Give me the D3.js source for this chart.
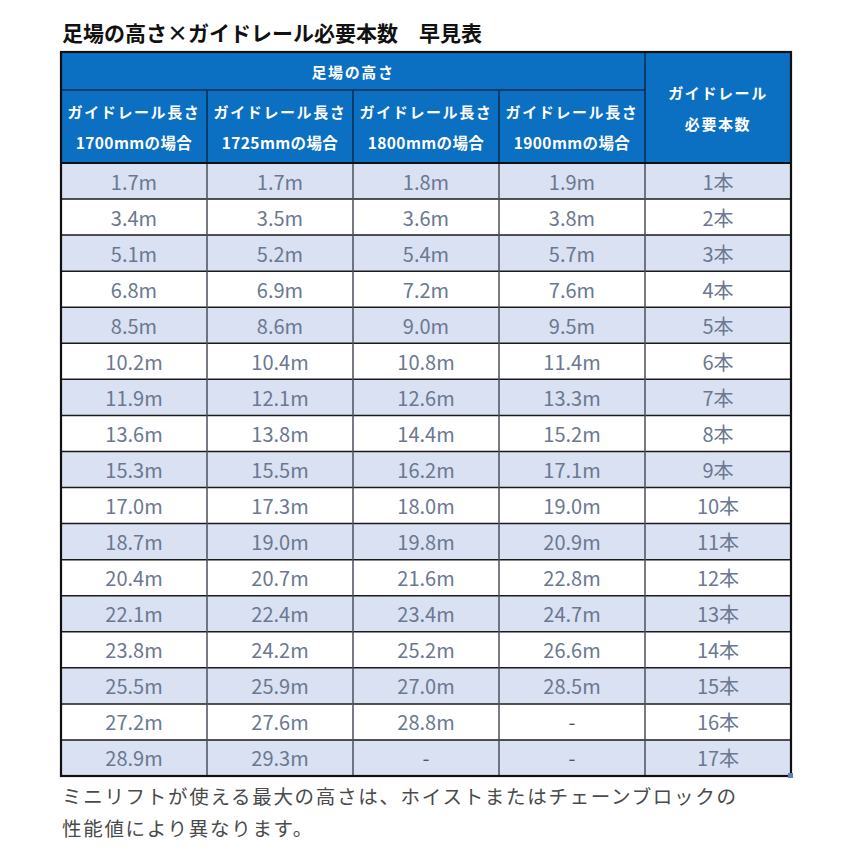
<!DOCTYPE html>
<html><head><meta charset="utf-8">
<script src="https://cdn.jsdelivr.net/npm/d3@7"></script>
<style>
html,body{margin:0;padding:0;background:#fff;}
svg{display:block;font-family:"Noto Sans CJK JP","Noto Sans",sans-serif;}
</style></head>
<body>
<svg id="c" width="858" height="858"></svg>
<script>
const title = "足場の高さ×ガイドレール必要本数　早見表";
const groupHeader = "足場の高さ";
const colHeaders = [
  ["ガイドレール長さ","1700mmの場合"],
  ["ガイドレール長さ","1725mmの場合"],
  ["ガイドレール長さ","1800mmの場合"],
  ["ガイドレール長さ","1900mmの場合"]
];
const countHeader = ["ガイドレール","必要本数"];
const h1700 = [1.7,3.4,5.1,6.8,8.5,10.2,11.9,13.6,15.3,17.0,18.7,20.4,22.1,23.8,25.5,27.2,28.9];
const h1725 = [1.7,3.5,5.2,6.9,8.6,10.4,12.1,13.8,15.5,17.3,19.0,20.7,22.4,24.2,25.9,27.6,29.3];
const h1800 = [1.8,3.6,5.4,7.2,9.0,10.8,12.6,14.4,16.2,18.0,19.8,21.6,23.4,25.2,27.0,28.8,null];
const h1900 = [1.9,3.8,5.7,7.6,9.5,11.4,13.3,15.2,17.1,19.0,20.9,22.8,24.7,26.6,28.5,null,null];
const counts = [1,2,3,4,5,6,7,8,9,10,11,12,13,14,15,16,17];
const footnote = ["ミニリフトが使える最大の高さは、ホイストまたはチェーンブロックの","性能値により異なります。"];

const svg = d3.select("#c");
const L = 61, R = 791, T = 52, HB = 163, B = 776, HM = 90;
const colKeys = [0,1,2,3,4];
const x = d3.scaleBand().domain(colKeys).range([L,R]).padding(0);
const rows = d3.range(counts.length);
const y = d3.scaleBand().domain(rows).range([HB,B]).padding(0);

const blue = "#0b6fc2", shade = "#d9e1f2", txt = "#6b7891", hdrLine = "#0d2b4d";

// title
svg.append("text").attr("x",62).attr("y",41).attr("font-size",21).attr("font-weight","bold")
  .attr("fill","#111").text(title);

// header background
svg.append("rect").attr("x",L).attr("y",T).attr("width",R-L).attr("height",HB-T).attr("fill",blue);

// body rows
const series = [h1700,h1725,h1800,h1900];
rows.forEach(i=>{
  svg.append("rect").attr("x",L).attr("y",y(i)).attr("width",R-L).attr("height",y.bandwidth())
    .attr("fill", i%2===0 ? shade : "#fff");
});

// header lines
const hl = svg.append("g").attr("stroke",hdrLine).attr("stroke-width",1.5);
hl.append("line").attr("x1",L).attr("x2",x(4)).attr("y1",HM).attr("y2",HM);
[1,2,3].forEach(k=>hl.append("line").attr("x1",x(k)).attr("x2",x(k)).attr("y1",HM).attr("y2",HB));
hl.append("line").attr("x1",x(4)).attr("x2",x(4)).attr("y1",T).attr("y2",HB);

// body lines
const bl = svg.append("g");
rows.forEach(i=>{ if(i>0) bl.append("line").attr("x1",L).attr("x2",R).attr("y1",y(i)).attr("y2",y(i)).attr("stroke","#1a1a1a").attr("stroke-width",1.5); });
[1,2,3,4].forEach(k=>bl.append("line").attr("x1",x(k)).attr("x2",x(k)).attr("y1",HB).attr("y2",B).attr("stroke","#4a4f5a").attr("stroke-width",1.5));
bl.append("line").attr("x1",L).attr("x2",R).attr("y1",HB).attr("y2",HB).attr("stroke","#111").attr("stroke-width",2);

// outer border
svg.append("rect").attr("x",L).attr("y",T).attr("width",R-L).attr("height",B-T)
  .attr("fill","none").attr("stroke","#111").attr("stroke-width",2.2);
// selection handle
svg.append("rect").attr("x",R-3).attr("y",B-3).attr("width",5).attr("height",5).attr("fill","#5b7fc0");

// header text
const ht = svg.append("g").attr("fill","#fff").attr("font-weight","bold").attr("font-size",15)
  .attr("text-anchor","middle").attr("dominant-baseline","central").attr("letter-spacing","1.6px");
ht.append("text").attr("x",(x(0)+x(4))/2).attr("y",(T+HM)/2).text(groupHeader);
colHeaders.forEach((h,k)=>{
  const cx = x(k)+x.bandwidth()/2;
  ht.append("text").attr("x",cx).attr("y",111).text(h[0]);
  ht.append("text").attr("x",cx).attr("y",142).attr("font-size",15.5).attr("letter-spacing","0.4px").text(h[1]);
});
ht.append("text").attr("x",x(4)+x.bandwidth()/2).attr("y",92).text(countHeader[0]);
ht.append("text").attr("x",x(4)+x.bandwidth()/2).attr("y",123).text(countHeader[1]);

// cell text
const ct = svg.append("g").attr("font-size",20).attr("text-anchor","middle").attr("dominant-baseline","central");
rows.forEach(i=>{
  const cy = y(i)+y.bandwidth()/2;
  series.forEach((s,k)=>{
    const v = s[i];
    ct.append("text").attr("x",x(k)+x.bandwidth()/2).attr("y",cy)
      .attr("fill", v==null ? "#555" : txt)
      .text(v==null ? "-" : v.toFixed(1)+"m");
  });
  ct.append("text").attr("x",x(4)+x.bandwidth()/2).attr("y",cy).attr("fill",txt).text(counts[i]+"本");
});

// footnote
footnote.forEach((t,j)=>{
  svg.append("text").attr("x",62).attr("y",804+j*32).attr("font-size",19.5).attr("fill","#4a4a4a")
    .attr("letter-spacing","1.7px").text(t);
});
</script>
</body></html>
